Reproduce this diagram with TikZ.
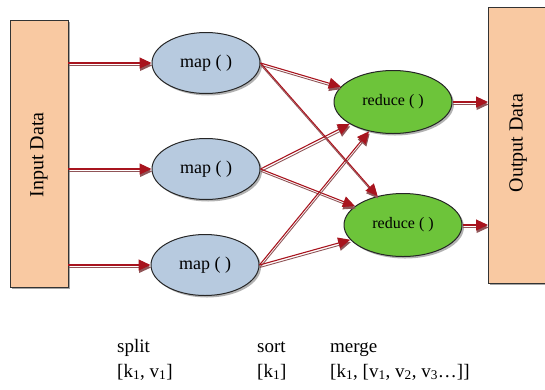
\documentclass[tikz,border=0pt]{standalone}
\usepackage{fontspec}
\setmainfont{Liberation Serif}
\usetikzlibrary{shapes.geometric,arrows.meta,shadows}
\definecolor{peach}{HTML}{F9C9A2}
\definecolor{mapblue}{HTML}{B7CADF}
\definecolor{redgreen}{HTML}{6DC43A}
\definecolor{arrred}{HTML}{A8141E}
\begin{document}
\begin{tikzpicture}[x=1pt,y=-1pt,
  databox/.style={draw=black!80,line width=0.9pt,fill=peach,
    drop shadow={shadow xshift=2pt,shadow yshift=-2pt,fill=black!70}},
  mapnode/.style={ellipse,draw=black!85,line width=1pt,fill=mapblue,
    minimum width=108pt,minimum height=61pt,inner sep=0pt,font=\fontsize{18}{20}\selectfont,
    drop shadow={shadow xshift=2pt,shadow yshift=-2pt,fill=black!60}},
  rednode/.style={mapnode,fill=redgreen,minimum width=118pt,minimum height=63pt,
    font=\fontsize{16}{18}\selectfont},
  conn/.style={draw=arrred,line width=1.1pt,
    -{Triangle[length=12pt,width=11pt]},
    preaction={draw=gray!60!arrred,line width=0.9pt,-{Triangle[length=12pt,width=11pt]},
      transform canvas={shift={(0.6pt,-2.4pt)}}}},
  lbl/.style={font=\fontsize{19}{21}\selectfont,anchor=base west,inner sep=0pt}
]
\useasboundingbox (0,0) rectangle (545,389);
% data boxes
\draw[databox] (10,20) rectangle (68,287);
\node[rotate=90,font=\fontsize{20}{22}\selectfont] (in) at (39,155) {Input Data};
\coordinate (inr) at (68,153);
\draw[databox] (488,7) rectangle (560,283);
\node[rotate=90,font=\fontsize{20}{22}\selectfont] (out) at (518,143) {Output Data};
\coordinate (outl) at (488,145);
% nodes
\node[mapnode] (m1) at (206,63) {map ( )};
\node[mapnode] (m2) at (206,169) {map ( )};
\node[mapnode] (m3) at (205,265) {map ( )};
\node[rednode] (r1) at (393,102) {reduce ( )};
\node[rednode] (r2) at (403,225) {reduce ( )};
% input arrows
\draw[conn] (m1.west -| inr) -- (m1.west);
\draw[conn] (m2.west -| inr) -- (m2.west);
\draw[conn] (m3.west -| inr) -- (m3.west);
% shuffle
\draw[conn] (m1.east) -- (r1);
\draw[conn] (m1.east) -- (r2);
\draw[conn] (m2.east) -- (r1);
\draw[conn] (m2.east) -- (r2);
\draw[conn] (m3.east) -- (r1);
\draw[conn] (m3.east) -- (r2);
% output arrows
\draw[conn] (r1.east) -- (r1.east -| outl);
\draw[conn] (r2.east) -- (r2.east -| outl);
% labels
\node[lbl] (s1) at (117,352) {split};
\node[lbl] (s2) at (117,377) {[k\textsubscript{1}, v\textsubscript{1}]};
\node[lbl] (t1) at (257,352) {sort};
\node[lbl] (t2) at (257,377) {[k\textsubscript{1}]};
\node[lbl] (g1) at (330,352) {merge};
\node[lbl] (g2) at (330,377) {[k\textsubscript{1}, [v\textsubscript{1}, v\textsubscript{2}, v\textsubscript{3}\ldots]]};
\end{tikzpicture}
\end{document}
